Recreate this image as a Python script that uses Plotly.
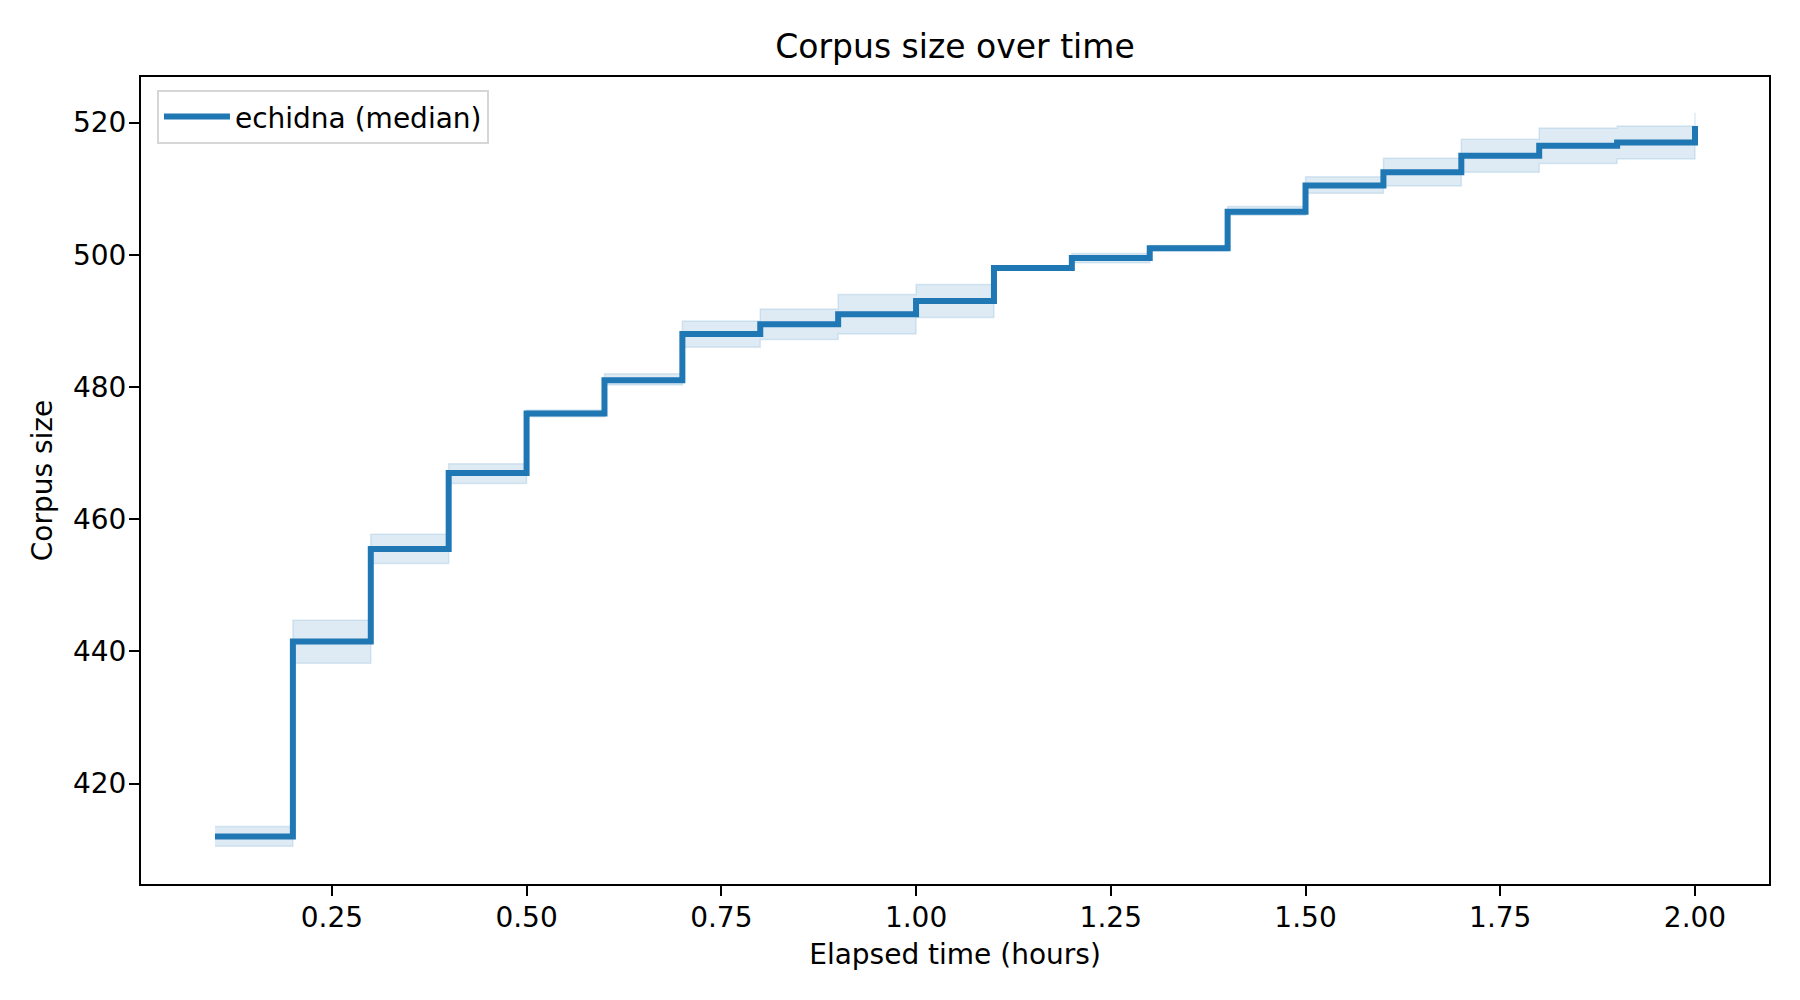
import plotly.graph_objects as go

# 経過時間（時間）とコーパスサイズ（中央値と範囲）
elapsed_hours = [0.1, 0.2, 0.3, 0.4, 0.5, 0.6, 0.7, 0.8, 0.9, 1.0,
                 1.1, 1.2, 1.3, 1.4, 1.5, 1.6, 1.7, 1.8, 1.9, 2.0]
corpus_median = [412, 441.5, 455.5, 467, 476, 481, 488, 489.5, 491, 493,
                 498, 499.5, 501, 506.5, 510.5, 512.5, 515, 516.5, 517, 519.5]
corpus_lower = [410.5, 438.2, 453.3, 465.4, 475.5, 480.3, 486.0, 487.2, 488.0, 490.5,
                497.7, 498.8, 500.6, 506.0, 509.3, 510.4, 512.5, 513.8, 514.5, 517.5]
corpus_upper = [413.5, 444.7, 457.7, 468.4, 476.5, 482.0, 490.0, 491.8, 494.0, 495.5,
                498.3, 500.2, 501.4, 507.3, 511.8, 514.6, 517.5, 519.2, 519.5, 521.5]

x_ticks = [0.25, 0.5, 0.75, 1.0, 1.25, 1.5, 1.75, 2.0]
y_ticks = [420, 440, 460, 480, 500, 520]

blue = "#1f77b4"
band = "rgba(31,119,180,0.15)"
font = "DejaVu Sans"

fig = go.Figure()

# 範囲（下側と上側）
fig.add_trace(go.Scatter(x=elapsed_hours, y=corpus_lower, mode="lines",
                         line=dict(shape="hv", color=band, width=1.5),
                         showlegend=False, hoverinfo="skip"))
fig.add_trace(go.Scatter(x=elapsed_hours, y=corpus_upper, mode="lines",
                         line=dict(shape="hv", color=band, width=1.5),
                         fill="tonexty", fillcolor=band,
                         showlegend=False, hoverinfo="skip"))

# 中央値
fig.add_trace(go.Scatter(x=elapsed_hours, y=corpus_median, mode="lines",
                         name="echidna (median)",
                         line=dict(shape="hv", color=blue, width=6)))

axis_style = dict(showline=True, mirror=True, linecolor="black", linewidth=2,
                  ticks="outside", ticklen=10, tickwidth=2, tickcolor="black",
                  ticklabelstandoff=-3,
                  showgrid=False, zeroline=False,
                  tickfont=dict(family=font, size=28, color="black"))

# ページ本体の余白(8px)の分だけ左上に寄せる
fig.update_layout(
    width=1800, height=1000,
    paper_bgcolor="white", plot_bgcolor="white",
    margin=dict(l=133, r=39, t=69, b=124),
    font=dict(family=font, color="black"),
    title=dict(text="Corpus size over time", x=0.5, xanchor="center", xref="paper",
               y=0.962, yanchor="middle", yref="container",
               font=dict(family=font, size=33, color="black")),
    legend=dict(x=0.0098, y=0.984, xanchor="left", yanchor="top",
                itemwidth=66,
                bgcolor="rgba(255,255,255,0.8)", bordercolor="#d6d6d6",
                borderwidth=2, font=dict(family=font, size=28, color="black")),
)

fig.update_xaxes(range=[0.005, 2.095], tickvals=x_ticks, tickformat=".2f",
                 title=dict(text="Elapsed time (hours)", standoff=12,
                            font=dict(family=font, size=28, color="black")),
                 **axis_style)
fig.update_yaxes(range=[404.8, 526.9], tickvals=y_ticks,
                 title=dict(text="Corpus size", standoff=12,
                            font=dict(family=font, size=28, color="black")),
                 **axis_style)

fig.write_html("out.html")
